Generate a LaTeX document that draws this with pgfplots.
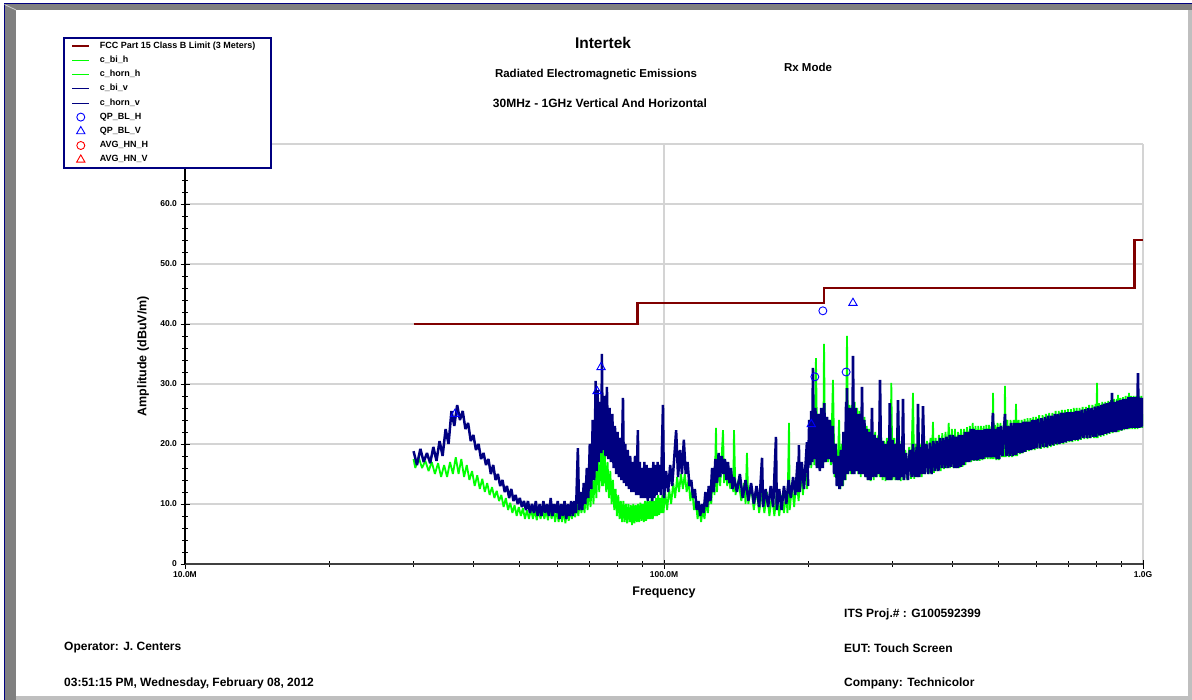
\documentclass[border=0pt]{standalone}
\usepackage{pgfplots}
\pgfplotsset{compat=1.18}
\usepackage{pgfplotstable}
\usepackage{fontspec}
\setmainfont{Liberation Sans}
\definecolor{limitred}{HTML}{800000}
\definecolor{navyc}{HTML}{000080}
\definecolor{greenc}{HTML}{00FF00}
\definecolor{gridc}{HTML}{D4D4D4}
\definecolor{frameg}{HTML}{808080}

% vertical, biconical (30-200 MHz): alternating upper / lower trace values
\pgfplotstableread[row sep=\\]{f y\\
30 18.8\\30.5 16.5\\31 19.2\\31.5 17\\32 18.5\\32.5 16.8\\33 19.5\\33.5 17.2\\34 20.5\\34.5 18\\35 22.5\\35.5 20\\36 25.5\\36.5 23\\37 26.5\\37.5 24\\38 25.5\\38.5 22.5\\39 23.5\\39.5 20.5\\40 21.5\\40.5 19\\41 20\\41.5 17.5\\42 18.5\\42.5 16.5\\43 17.5\\43.5 15\\44 16.5\\44.5 14\\45 15\\45.5 13\\46 14\\46.5 12\\47 13\\47.5 11\\48 12.5\\48.5 10.5\\49 11.5\\49.5 10\\50 11\\50.5 9.5\\51 10.5\\51.5 9\\52 10.5\\52.5 8.5\\53 10\\53.5 8.5\\54 10.5\\54.5 8\\55 10\\55.5 8\\56 10.5\\56.5 8.5\\57 10\\57.5 8\\58 11\\58.5 8\\59 10\\59.5 8.5\\60 10.5\\60.5 7.5\\61 10\\61.5 8\\62 10.5\\62.5 7.5\\63 10\\63.5 8\\64 10.5\\64.5 8\\65 10.5\\65.5 8.5\\66.1 19.3\\66.5 9\\67 12\\67.5 9\\68 13.5\\68.5 10\\69 16\\69.5 11\\70 20\\70.5 12.5\\71 24\\71.5 14\\72 30.5\\72.3 15.5\\72.7 29\\73 17\\73.5 27\\74 18.5\\74.2 35\\74.5 19\\75 28\\75.5 18\\76 29.5\\76.5 17.5\\77 26\\77.5 17\\78 25\\78.5 16\\79 23\\79.5 15\\80 22\\80.5 14.5\\81 21\\81.5 14\\82.1 27.7\\82.5 13.5\\83 20\\83.5 13\\84 19\\84.5 12.5\\85 18\\85.5 12\\86 17\\86.5 12\\87 18\\87.5 11.5\\88.2 22.3\\88.5 11.5\\89 17\\89.5 11\\90 16\\90.5 11\\91 17\\91.5 11\\92 16.5\\92.5 10.5\\93 16\\93.5 11\\94 16\\94.5 10.5\\95 17\\95.5 11\\96 16.5\\96.5 11.5\\97 17\\97.5 12\\98 16.5\\98.5 11.5\\99.5 26.5\\100 11\\
101 15.5\\102 12\\103 16.5\\104 13\\105 17.5\\106 22.3\\107 14.5\\108 19\\109 15\\110 20.7\\111 15\\112 17\\113 13\\114 14\\115 11\\116 12.5\\117 9\\118 10.5\\119 8\\120 10\\121 8.5\\122 12\\123 9.5\\124 13\\125 10.5\\126 16\\127 12\\128 17.5\\129 13.5\\130 18.5\\131 14.5\\132 18\\133 15\\134 17.5\\135 14\\136 17\\137 13.5\\138 16\\139 12.5\\140 14.5\\142 12\\144 15\\146 11\\148 14\\150 10.5\\152 13.5\\154 10\\156 13\\158 9.5\\160.2 17.7\\161 9.5\\163 12.5\\165 9.5\\167 13\\169 9.5\\171.3 21.2\\172 9\\174 12.5\\176 9\\178 13\\180 10\\182 14\\184 11\\186 14.5\\188 11.5\\190 17\\190.6 12\\191.3 19.8\\192 12\\194 17\\196 12.5\\198.8 20.3\\200 13\\
}\navybi

% vertical, horn (200-1000 MHz)
\pgfplotstableread[row sep=\\]{f y\\
200 16\\201 24\\202 16.5\\203 25.5\\204 17\\204.6 32.7\\205.5 17.5\\207 26\\208.5 16\\210 25\\211.5 15.5\\213 26\\214.5 16\\216 26.8\\217.5 17\\219 24.5\\220.5 17.5\\222 24\\223.5 17\\225 23\\226.5 15\\228 20\\229.5 13\\231 18\\232.5 12.5\\234 19\\235.5 13\\237 22\\238.5 14\\240 27\\240.5 15\\241 29.3\\242 15\\243.5 26\\245 15.5\\246.5 26\\247.3 15\\248 34.7\\249.5 15\\251 26\\252.5 15.5\\254 25\\255.5 15\\257 25\\258 15\\259 29.5\\260.5 15\\262 24\\263.5 14.5\\265 22.5\\266.5 14\\268 22\\270 14\\271.8 26\\273 14.5\\275 21.5\\277 14.5\\279 21\\281 15\\282.5 30.7\\284 14.5\\286 20.5\\288 14.5\\290 20\\292 14\\294 20.5\\295 14\\296 26.8\\298 14\\300 20.7\\302 14.5\\304 20\\306 14\\308 27.3\\310 14\\312 20\\314 14.5\\315.5 27.5\\317 14\\320 18.5\\323 14\\326 19\\329 14.5\\331 20\\334 14.5\\337 19.5\\338 14.5\\339 26.7\\341 14.5\\344 19.5\\345.5 15\\347.3 26.3\\350 15\\353 20\\356 15\\359 20.2\\362 15\\365 20.5\\368 15.5\\371 20.5\\374 15.5\\377 21\\380 16\\383 21\\386 16\\389 21.2\\392 16\\395 21.5\\398 16.2\\401 21.5\\404 16\\407 21.2\\410 16\\413 21.5\\416 16.2\\419 21.5\\422 16.5\\425 22\\428 17\\431 22\\434 17\\437 22.5\\440 17.3\\443 22.5\\446 17.3\\449 22.3\\452 17.3\\455 22.3\\458 17.5\\461 22.3\\464 17.5\\467 22.5\\470 17.8\\473 22.5\\476 17.8\\479 22.5\\482 17.8\\486 25.2\\489 17.8\\492 22.5\\495 17.5\\498 22.8\\501 17.5\\505 23\\509 18\\515 25\\519 18\\523 23\\527 18\\531 23.5\\535 18\\539 23.5\\543 18.2\\547 23.5\\551 18.5\\555 23.5\\559 18.5\\563 23.7\\567 18.7\\571 23.7\\575 19\\579 23.7\\583 19\\587 24\\591 19.2\\595 24\\599 19.3\\604 24.2\\609 19.3\\614 24.3\\619 19.5\\624 24.5\\629 19.5\\634 24.7\\639 19.7\\644 24.7\\649 19.8\\654 25\\659 20\\664 25\\669 20\\674 25.2\\679 20.2\\684 25.2\\689 20.3\\694 25.3\\699 20.5\\704 25.3\\709 20.5\\714 25.3\\719 20.7\\724 25.5\\729 20.7\\734 25.5\\739 20.8\\745 25.7\\751 21\\757 25.8\\763 21\\769 26\\775 21\\781 26\\787 21.2\\793 26.2\\799 21.2\\805 26.3\\811 21.4\\817 26.5\\823 21.5\\829 26.7\\835 21.7\\841 26.8\\847 21.8\\853 27\\857 22\\861.5 28.5\\866 22\\872 27\\878 22\\884 27.2\\890 22.3\\896 27.3\\902 22.3\\908 27.5\\914 22.5\\920 27.5\\926 22.5\\932 27.8\\938 22.7\\944 27.8\\950 22.7\\956 27.8\\962 22.7\\968 27.8\\972 22.7\\976 31.8\\980 22.7\\986 27.7\\992 22.8\\998 27.7\\1000 23\\
}\navyhorn

% horizontal, biconical (30-200 MHz)
\pgfplotstableread[row sep=\\]{f y\\
30 17.5\\30.25 16\\30.75 17.8\\31.25 16\\31.75 17.2\\32.25 15.5\\32.75 17\\33.25 15\\33.75 16.8\\34.25 14.5\\34.75 16.5\\35.25 14.5\\35.75 17\\36.25 15\\36.75 17.8\\37.25 15\\37.75 17.5\\38.25 14.5\\38.75 16.5\\39.25 14\\39.75 15.5\\40.25 13\\40.75 14.8\\41.25 12.5\\41.75 14.2\\42.25 12\\42.75 13.5\\43.25 11.5\\43.75 12.8\\44.25 11\\44.75 12.2\\45.25 10.5\\45.75 11.5\\46.25 9.5\\46.75 11\\47.25 9\\47.75 10.2\\48.25 8.5\\48.75 9.8\\49.25 8\\49.75 9.5\\50.25 8\\50.75 9.3\\51.25 7.5\\51.75 9\\52.25 7.5\\52.75 9.2\\53.25 7.5\\53.75 9\\54.25 7.3\\54.75 9\\55.25 7.5\\55.75 9.2\\56.25 7.5\\56.75 9\\57.25 7.3\\57.75 9.5\\58.25 7.5\\58.75 9.2\\59.25 7\\59.75 9\\60.25 7\\60.75 9.2\\61.25 7\\61.75 9\\62.25 6.8\\62.75 9\\63.25 7.2\\63.75 9\\64.25 7.5\\64.75 9.5\\65.25 7.8\\65.75 10\\66.25 8\\66.75 10.5\\67.25 8.5\\67.75 11\\68.25 8.5\\68.75 12\\69.25 9\\69.75 13\\70.25 9.5\\70.75 14.5\\71.25 10\\71.75 16\\72.25 11\\72.75 17.5\\73.25 12\\73.75 19\\74.25 13\\74.5 20\\74.75 13\\75.25 18\\75.75 12\\76.25 17\\76.75 11\\77.25 15.5\\77.75 10\\78.25 14\\78.75 9\\79.25 12.5\\79.75 8\\80.25 11.5\\80.75 7.5\\81.25 10.5\\81.75 7\\82.25 10.5\\82.75 7\\83.25 10\\83.75 6.8\\84.25 10\\84.75 7\\85.25 9.8\\85.75 6.5\\86.25 10\\86.75 6.8\\87.25 9.8\\87.75 7\\88.25 10\\88.75 7\\89.25 10.2\\89.75 7.2\\90.25 10\\90.75 7\\91.25 10.5\\91.75 7.2\\92.25 10.5\\92.75 7.5\\93.25 10.5\\93.75 7.5\\94.25 11\\94.75 7.5\\95.25 10.5\\95.75 8\\96.25 11\\96.75 8\\97.25 11.5\\97.75 8.2\\98.25 11\\98.75 8.5\\99.25 11.5\\99.75 8.5\\
100.5 12\\101.5 9\\102.5 12.5\\103.5 10\\104.5 13.5\\105.5 11\\106.5 14.5\\107.5 12\\108.5 15\\109.5 12.5\\110.5 15\\111.5 12\\112.5 14\\113.5 10.5\\114.5 12.5\\115.5 9\\116.5 10.5\\117.5 7.5\\118.5 9.5\\119.5 7\\120.5 9\\121.5 7.5\\122.5 10.5\\123.5 8.5\\124.5 12\\125.5 10\\126.5 15\\127.5 11.5\\128.4 22.7\\129 12\\130 17\\131 13\\132.8 22.3\\133.5 13.5\\134.5 17\\135.5 13\\136.5 16\\137.5 12.5\\138.5 15\\139.5 12\\140 22.3\\141 11.5\\143 14\\145 10.5\\147 13.5\\148 10\\149 18.5\\150 10\\152 13\\154 9\\156 12.5\\158 8.5\\160 12\\162 8.5\\164 12\\166 8\\168 11.5\\170 8\\172 12\\174 8\\176 11.5\\178 8.5\\180 12\\181 8.5\\182.4 23.5\\183 9\\185 13\\187 9.5\\189 14.5\\191 10.5\\193 15.5\\195 11.5\\197 16\\199 12.5\\200 17\\
}\greenbi

% horizontal, horn (200-1000 MHz)
\pgfplotstableread[row sep=\\]{f y\\
200 16\\201.5 24\\203 16\\204.5 25\\206 16.5\\207.6 34.3\\209 16.5\\210.5 25\\212 16\\213.5 25.5\\215 16.5\\215.8 36.7\\217 17\\218.5 24.5\\220 17\\221.5 24\\223 16.5\\225.3 30.7\\227 14.5\\228.5 20\\230 13\\232 24\\233.5 12.5\\235 20\\236.5 13\\238 22\\239.5 14\\241 38\\242.5 15\\244 26.5\\245.5 15\\247 26.5\\248.5 15\\250 27\\251.5 15.5\\253 26\\254.5 15\\256 25.5\\257.5 14.5\\259 25\\260.5 15\\262 24.5\\263.5 14.5\\265 23\\266.5 14\\268 22.5\\270 13.8\\272 22\\274 14\\276 22\\278 14.5\\280 21.5\\282 14.5\\284 21\\286 14\\288 20.5\\290 13.8\\292 21\\294 14\\295.5 21\\297 14\\298.2 30.2\\300 14\\302 21\\304 14\\306 21\\308 14\\310 20.5\\312 13.8\\314 20.5\\316 14\\319 19\\322 14\\325 19.5\\328 14.2\\331 28.5\\333 14.2\\336 20\\339 14.5\\342 20\\345 14.5\\348 20.5\\351 15\\354 20.5\\357 15\\360 21\\362 15\\364.4 23.7\\366 15.2\\369 21\\372 15.5\\375 21.5\\378 15.5\\381 21.8\\384 15.8\\387 22\\390 16\\393 23.5\\396 16\\399 22.5\\402 16\\405 22.5\\408 16\\411 22\\414 16\\417 22.5\\420 16.2\\423 22.5\\426 16.5\\429 22.8\\432 17\\435 23\\438 17\\441 23.5\\444 17.2\\447 23\\450 17.2\\453 23\\456 17.2\\459 23\\462 17.3\\465 23\\468 17.5\\471 23.2\\474 17.5\\477 23.2\\480 17.5\\483 23\\485 17.5\\486.3 28.5\\488 17.5\\491 23.2\\494 17.3\\497 23.5\\500 17.3\\504 23.5\\508 17.8\\512 23.5\\513.5 17.8\\515 29.7\\517 17.8\\521 24\\525 17.8\\529 24\\533 17.8\\537 24\\541 18\\543 26.7\\546 18\\550 24\\554 18.3\\558 24\\562 18.5\\566 24.2\\570 18.7\\574 24.3\\578 18.8\\582 24.3\\586 19\\590 24.5\\594 19\\598 24.5\\602 19.2\\607 24.8\\612 19.2\\617 24.8\\622 19.3\\627 25\\632 19.3\\637 25.2\\642 19.5\\647 25.2\\652 19.7\\657 25.5\\662 19.8\\667 25.5\\672 20\\677 25.7\\682 20\\687 25.7\\692 20.2\\697 25.8\\702 20.3\\707 25.8\\712 20.3\\717 26\\722 20.5\\727 26\\732 20.5\\737 26\\742 20.7\\748 26.2\\754 20.8\\760 26.2\\766 20.8\\772 26.5\\778 21\\784 26.5\\790 21\\796 26.7\\799 21\\801.7 30.2\\804 21\\810 26.8\\816 21.2\\822 27\\828 21.3\\834 27\\840 21.5\\846 27.2\\852 21.7\\858 27.3\\864 21.8\\870 27.5\\876 22\\882 27.5\\884 22\\886.7 28.2\\890 22\\896 27.7\\902 22.2\\908 27.8\\914 22.3\\920 28\\926 22.5\\932 28\\933.5 22.5\\935 28.5\\938 22.5\\944 28\\950 22.5\\956 28\\962 22.5\\968 28\\974 22.5\\980 28\\986 22.7\\992 28\\998 22.7\\1000 25\\
}\greenhorn

\begin{document}
\begin{tikzpicture}
\fill[white] (0pt,0pt) rectangle (1192pt,-700pt);
\path[use as bounding box] (0pt,0pt) rectangle (1192pt,-700pt);
% window frame
\fill[frameg] (4pt,-4pt) rectangle (16pt,-700pt);
\fill[frameg] (4pt,-4pt) rectangle (1192pt,-10pt);
\fill[black!25] (16pt,-696pt) rectangle (1192pt,-700pt);
\fill[black!25] (1188pt,-10pt) rectangle (1192pt,-700pt);
\draw[navyc, line width=1pt] (4pt,-700pt) -- (4pt,-4pt) -- (1192pt,-4pt);
\draw[black!20, line width=0.8pt] (4.5pt,-4.5pt) -- (16pt,-10pt);

\begin{axis}[
  at={(185pt,-564pt)}, anchor=south west,
  scale only axis, width=958pt, height=420pt,
  xmode=log, xmin=10, xmax=1000, ymin=0, ymax=70,
  axis lines*=left,
  x axis line style={-, draw=black!75, line width=1.6pt},
  y axis line style={-, draw=black, line width=1.2pt},
  xtick={10,100,1000}, xticklabels={10.0M,100.0M,1.0G},
  minor xtick={20,30,40,50,60,70,80,90,200,300,400,500,600,700,800,900},
  ytick={0,10,20,30,40,50,60,70},
  yticklabels={0,10.0,20.0,30.0,40.0,50.0,60.0,70.0},
  minor y tick num=4,
  tick align=center, major tick length=9pt, minor tick length=6pt,
  tick style={black, line width=0.9pt},
  xmajorgrids, ymajorgrids,
  grid style={gridc, line width=1.2pt},
  /pgf/number format/assume math mode=true,
  ticklabel style={font=\bfseries\fontsize{8.5}{10}\selectfont},
  xlabel={Frequency}, ylabel={Amplitude (dBuV/m)},
  label style={font=\bfseries\fontsize{12.5}{14}\selectfont},
  xlabel style={at={(axis description cs:0.5,-0.069)}, anchor=center},
  ylabel style={at={(axis description cs:-0.0438,0.495)}, anchor=center, rotate=0},
  legend cell align=left,
  legend style={at={(axis description cs:-0.12735,1.25476)}, anchor=north west,
    draw=navyc, line width=2pt, fill=white,
    inner xsep=7pt, inner ysep=1pt,
    font=\bfseries\fontsize{9}{10}\selectfont,
    nodes={inner sep=2.8pt, text height=6.4pt, text depth=2.2pt},
    /tikz/every odd column/.append style={column sep=6.5pt}},
]
\addplot[draw=limitred, color=limitred, line width=2.5pt, const plot] coordinates {(30,40) (88,43.5) (216,46) (960,54) (1000,54)};
\addlegendentry{FCC Part 15 Class B Limit (3 Meters)\hspace*{6pt}}

\addplot[draw=greenc, color=greenc, line width=1.8pt, line join=bevel, forget plot] table[x=f, y=y] {\greenbi};
\addplot[draw=greenc, color=greenc, line width=1.8pt, line join=bevel, forget plot] table[x=f, y=y] {\greenhorn};
\addplot[draw=navyc, color=navyc, line width=2.5pt, line join=bevel, forget plot] table[x=f, y=y] {\navybi};
\addplot[draw=navyc, color=navyc, line width=2.6pt, line join=bevel, forget plot] table[x=f, y=y] {\navyhorn};

\addlegendimage{draw=greenc, color=greenc, line width=0.8pt}
\addlegendentry{c\_bi\_h}
\addlegendimage{draw=greenc, color=greenc, line width=0.8pt}
\addlegendentry{c\_horn\_h}
\addlegendimage{draw=navyc, color=navyc, line width=0.8pt}
\addlegendentry{c\_bi\_v}
\addlegendimage{draw=navyc, color=navyc, line width=0.8pt}
\addlegendentry{c\_horn\_v}

\addplot[only marks, mark=o, mark size=4pt, draw=blue, color=blue, line width=0.9pt] coordinates {(206.5,31.2) (214.6,42.2) (240,32)};
\addlegendentry{QP\_BL\_H}
\addplot[only marks, mark=triangle, mark size=4.8pt, draw=blue, color=blue, line width=0.9pt] coordinates {(36.6,25) (72.5,28.8) (73.9,32.8) (203,23.3) (248,43.5)};
\addlegendentry{QP\_BL\_V}
\addlegendimage{only marks, mark=o, mark size=4pt, draw=red, color=red, line width=0.9pt}
\addlegendentry{AVG\_HN\_H}
\addlegendimage{only marks, mark=triangle, mark size=4.8pt, draw=red, color=red, line width=0.9pt}
\addlegendentry{AVG\_HN\_V}
\end{axis}

\node[font=\bfseries\fontsize{15.5}{18}\selectfont] at (603pt,-43pt) {Intertek};
\node[font=\bfseries\fontsize{11.5}{13}\selectfont] at (596pt,-75pt) {Radiated Electromagnetic Emissions};
\node[font=\bfseries\fontsize{12}{14}\selectfont] at (600pt,-103pt) {30MHz - 1GHz Vertical And Horizontal};
\node[font=\bfseries\fontsize{11.5}{13}\selectfont] at (808pt,-67pt) {Rx Mode};

\node[anchor=west, inner sep=0pt, font=\bfseries\fontsize{12}{14}\selectfont] at (844pt,-614pt) {ITS Proj.\# : G100592399};
\node[anchor=west, inner sep=0pt, font=\bfseries\fontsize{12}{14}\selectfont] at (64pt,-648pt) {Operator: J. Centers};
\node[anchor=west, inner sep=0pt, font=\bfseries\fontsize{12}{14}\selectfont] at (844pt,-648pt) {EUT: Touch Screen};
\node[anchor=west, inner sep=0pt, font=\bfseries\fontsize{12}{14}\selectfont] at (64pt,-683pt) {03:51:15 PM, Wednesday, February 08, 2012};
\node[anchor=west, inner sep=0pt, font=\bfseries\fontsize{12}{14}\selectfont] at (844pt,-683pt) {Company: Technicolor};
\end{tikzpicture}
\end{document}
